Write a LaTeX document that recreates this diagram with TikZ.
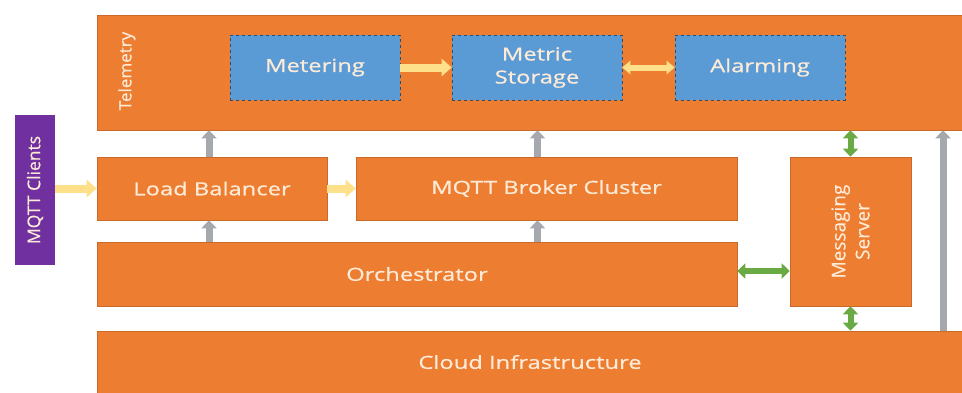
\documentclass[tikz,border=0pt]{standalone}
\usepackage{fontspec}
\setmainfont[FakeStretch=1.32,FakeBold=0.8]{Open Sans}
\newfontfamily\uprightlbl[FakeBold=0.5]{Open Sans}
\usetikzlibrary{arrows.meta,calc}
\definecolor{boxorange}{HTML}{ED7D31}
\definecolor{boxblue}{HTML}{5B9BD5}
\definecolor{boxpurple}{HTML}{7030A0}
\definecolor{flowgray}{HTML}{A5A8AD}
\definecolor{flowgreen}{HTML}{6AAA45}
\definecolor{flowyellow}{HTML}{FFE08A}
\definecolor{txtcream}{HTML}{FDEBD8}
\tikzset{
  layer/.style={fill=boxorange, draw=boxorange!85!black, line width=0.6pt,
    text=txtcream, font=\fontsize{18}{20}\selectfont, inner sep=0pt, align=center},
  svc/.style={fill=boxblue, draw=boxblue!50!black, dashed, line width=0.6pt,
    text=txtcream, font=\fontsize{18}{20}\selectfont, inner sep=0pt, align=center,
    minimum width=170pt, minimum height=65pt},
  grayup/.style={draw=flowgray, line width=7pt, -{Triangle[width=15pt,length=8pt]}},
  greenboth/.style={draw=flowgreen, line width=6pt,
    {Triangle[width=15pt,length=8pt]}-{Triangle[width=15pt,length=8pt]}},
  yellowflow/.style={draw=flowyellow, line width=8pt, -{Triangle[width=17pt,length=10pt]}},
  yellowboth/.style={draw=flowyellow, line width=6pt,
    {Triangle[width=13pt,length=8pt]}-{Triangle[width=13pt,length=8pt]}},
}
\begin{document}
\begin{tikzpicture}[x=1pt,y=-1pt]
\useasboundingbox (0,0) rectangle (962,392);
\fill[white] (0,0) rectangle (962,392);

% layers
\node[layer, minimum width=866pt, minimum height=115pt] (tele) at (530,72.5) {};
\node[layer, rotate=90, draw=none, font=\uprightlbl\fontsize{17}{19}\selectfont] (telelbl) at (127,71) {Telemetry};
\node[layer, minimum width=866pt, minimum height=62pt] (cloud) at (530,362) {Cloud Infrastructure};
\node[layer, minimum width=230pt, minimum height=63pt] (lb) at (212,188.5) {Load Balancer};
\node[layer, minimum width=381pt, minimum height=63pt] (broker) at (546.5,188.5) {MQTT Broker Cluster};
\node[layer, minimum width=640pt, minimum height=64pt] (orch) at (417,274) {Orchestrator};
\node[layer, minimum width=149pt, minimum height=121pt, rotate=90,
      font=\uprightlbl\fontsize{19}{24}\selectfont] (msg) at (850.5,231.5) {Messaging\\Server};

% telemetry services
\node[svc] (meter) at (315,67.5) {Metering};
\node[svc, font=\fontsize{18}{23}\selectfont] (store) at (537,67.5) {Metric\\Storage};
\node[svc] (alarm) at (760,67.5) {Alarming};

% clients
\node[fill=boxpurple, text=txtcream, rotate=90, minimum width=150pt, minimum height=40pt,
      inner sep=0pt, font=\uprightlbl\fontsize{17.5}{19}\selectfont] (mqtt) at (35,190) {MQTT Clients};

% flows
\coordinate (gx) at (943,250);
\draw[yellowflow] (mqtt.south |- lb) -- (lb.west);
\draw[yellowflow] (lb.east) -- (broker.west);
\draw[yellowflow] (meter.east) -- (store.west);
\draw[yellowboth] (store.east) -- (alarm.west);
\draw[grayup] ([xshift=-3pt]lb.north) -- ([xshift=-3pt]lb.north |- tele.south);
\draw[grayup] ([xshift=-9pt]broker.north) -- ([xshift=-9pt]broker.north |- tele.south);
\draw[grayup] ([xshift=-3pt]lb.north |- orch.north) -- ([xshift=-3pt]lb.south);
\draw[grayup] ([xshift=-9pt]broker.north |- orch.north) -- ([xshift=-9pt]broker.south);
\draw[grayup] (gx |- cloud.north) -- (gx |- tele.south);
\draw[greenboth] ([yshift=3pt]orch.east) -- ([yshift=3pt]orch.east -| msg.north);
\draw[greenboth] (msg.east) -- (msg.east |- tele.south);
\draw[greenboth] (msg.west) -- (msg.west |- cloud.north);
\end{tikzpicture}
\end{document}
